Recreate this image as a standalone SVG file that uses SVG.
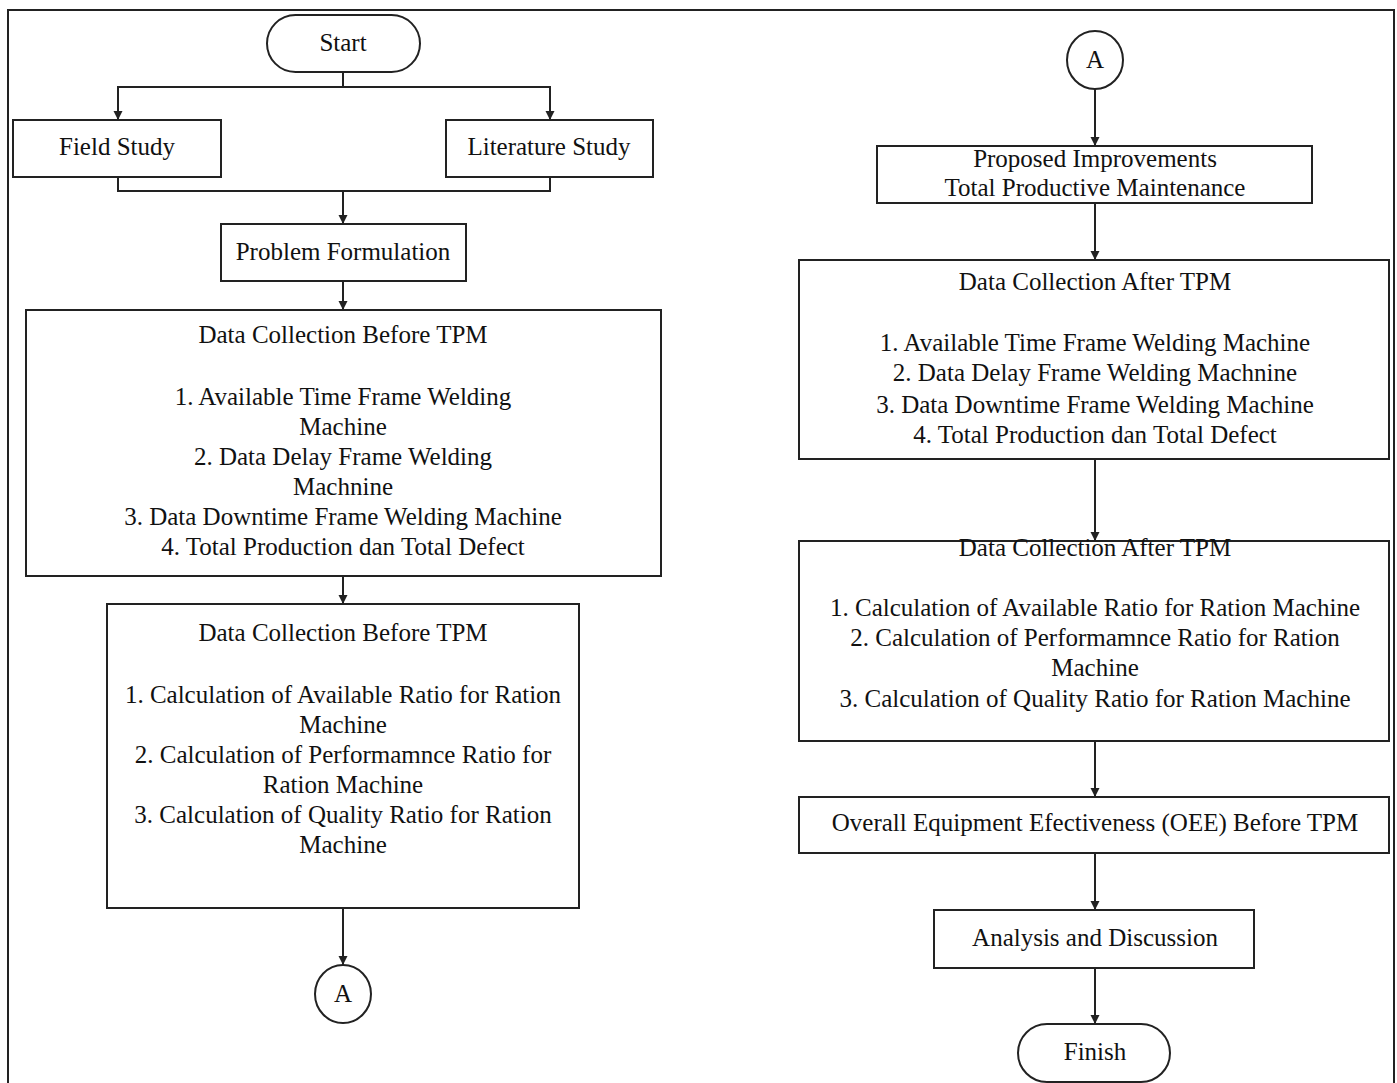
<svg xmlns="http://www.w3.org/2000/svg" width="1397" height="1083" viewBox="0 0 1397 1083">
<defs>
<style>
.box{fill:#fff;stroke:#222;stroke-width:2}
.ln{fill:none;stroke:#222;stroke-width:2}
.t{font-family:"Liberation Serif","Times New Roman",serif;font-size:25px;fill:#111;text-anchor:middle}
</style>
<marker id="ah" viewBox="0 0 10 10" refX="10" refY="5" markerWidth="9" markerHeight="10" markerUnits="userSpaceOnUse" orient="auto">
<path d="M0,0 L10,5 L0,10 Z" fill="#222"/>
</marker>
</defs>
<rect width="1397" height="1083" fill="#fff"/>
<rect x="8" y="10" width="1386" height="1090" fill="none" stroke="#222" stroke-width="2"/>

<g id="connectors">
<path class="ln" d="M343,72 V87 H118 V120" marker-end="url(#ah)"/>
<path class="ln" d="M343,87 H550 V120" marker-end="url(#ah)"/>
<path class="ln" d="M118,177 V191 H550 V177"/>
<path class="ln" d="M343,191 V224" marker-end="url(#ah)"/>
<path class="ln" d="M343,281 V310" marker-end="url(#ah)"/>
<path class="ln" d="M343,576 V604" marker-end="url(#ah)"/>
<path class="ln" d="M343,908 V965" marker-end="url(#ah)"/>
<path class="ln" d="M1095,89 V146" marker-end="url(#ah)"/>
<path class="ln" d="M1095,203 V260" marker-end="url(#ah)"/>
<path class="ln" d="M1095,459 V541" marker-end="url(#ah)"/>
<path class="ln" d="M1095,741 V797" marker-end="url(#ah)"/>
<path class="ln" d="M1095,853 V910" marker-end="url(#ah)"/>
<path class="ln" d="M1095,968 V1024" marker-end="url(#ah)"/>
</g>

<g id="start">
<rect class="box" x="267" y="15" width="153" height="57" rx="28.5"/>
<text class="t" x="343" y="51">Start</text>
</g>
<g id="field-study">
<rect class="box" x="13" y="120" width="208" height="57"/>
<text class="t" x="117" y="155">Field Study</text>
</g>
<g id="literature-study">
<rect class="box" x="446" y="120" width="207" height="57"/>
<text class="t" x="549" y="155">Literature Study</text>
</g>
<g id="problem-formulation">
<rect class="box" x="221" y="224" width="245" height="57"/>
<text class="t" x="343" y="260">Problem Formulation</text>
</g>
<g id="data-before-1">
<rect class="box" x="26" y="310" width="635" height="266"/>
<text class="t" x="343" y="343">Data Collection Before TPM</text>
<text class="t" x="343" y="405">1. Available Time Frame Welding</text>
<text class="t" x="343" y="435">Machine</text>
<text class="t" x="343" y="465">2. Data Delay Frame Welding</text>
<text class="t" x="343" y="495">Machnine</text>
<text class="t" x="343" y="525">3. Data Downtime Frame Welding Machine</text>
<text class="t" x="343" y="555">4. Total Production dan Total Defect</text>
</g>
<g id="data-before-2">
<rect class="box" x="107" y="604" width="472" height="304"/>
<text class="t" x="343" y="641">Data Collection Before TPM</text>
<text class="t" x="343" y="703">1. Calculation of Available Ratio for Ration</text>
<text class="t" x="343" y="733">Machine</text>
<text class="t" x="343" y="763">2. Calculation of Performamnce Ratio for</text>
<text class="t" x="343" y="793">Ration Machine</text>
<text class="t" x="343" y="823">3. Calculation of Quality Ratio for Ration</text>
<text class="t" x="343" y="853">Machine</text>
</g>
<g id="connector-a-left">
<ellipse class="box" cx="343" cy="994" rx="28" ry="29"/>
<text class="t" x="343" y="1002">A</text>
</g>

<g id="connector-a-right">
<ellipse class="box" cx="1095" cy="60" rx="28" ry="29"/>
<text class="t" x="1095" y="68">A</text>
</g>
<g id="proposed-improvements">
<rect class="box" x="877" y="146" width="435" height="57"/>
<text class="t" x="1095" y="167">Proposed Improvements</text>
<text class="t" x="1095" y="196">Total Productive Maintenance</text>
</g>
<g id="data-after-1">
<rect class="box" x="799" y="260" width="590" height="199"/>
<text class="t" x="1095" y="290">Data Collection After TPM</text>
<text class="t" x="1095" y="351">1. Available Time Frame Welding Machine</text>
<text class="t" x="1095" y="381">2. Data Delay Frame Welding Machnine</text>
<text class="t" x="1095" y="413">3. Data Downtime Frame Welding Machine</text>
<text class="t" x="1095" y="443">4. Total Production dan Total Defect</text>
</g>
<g id="data-after-2">
<rect class="box" x="799" y="541" width="590" height="200"/>
<text class="t" x="1095" y="556">Data Collection After TPM</text>
<text class="t" x="1095" y="616">1. Calculation of Available Ratio for Ration Machine</text>
<text class="t" x="1095" y="646">2. Calculation of Performamnce Ratio for Ration</text>
<text class="t" x="1095" y="676">Machine</text>
<text class="t" x="1095" y="707">3. Calculation of Quality Ratio for Ration Machine</text>
</g>
<g id="oee">
<rect class="box" x="799" y="797" width="590" height="56"/>
<text class="t" x="1095" y="831">Overall Equipment Efectiveness (OEE) Before TPM</text>
</g>
<g id="analysis">
<rect class="box" x="934" y="910" width="320" height="58"/>
<text class="t" x="1095" y="946">Analysis and Discussion</text>
</g>
<g id="finish">
<rect class="box" x="1018" y="1024" width="152" height="58" rx="29"/>
<text class="t" x="1095" y="1060">Finish</text>
</g>
</svg>
